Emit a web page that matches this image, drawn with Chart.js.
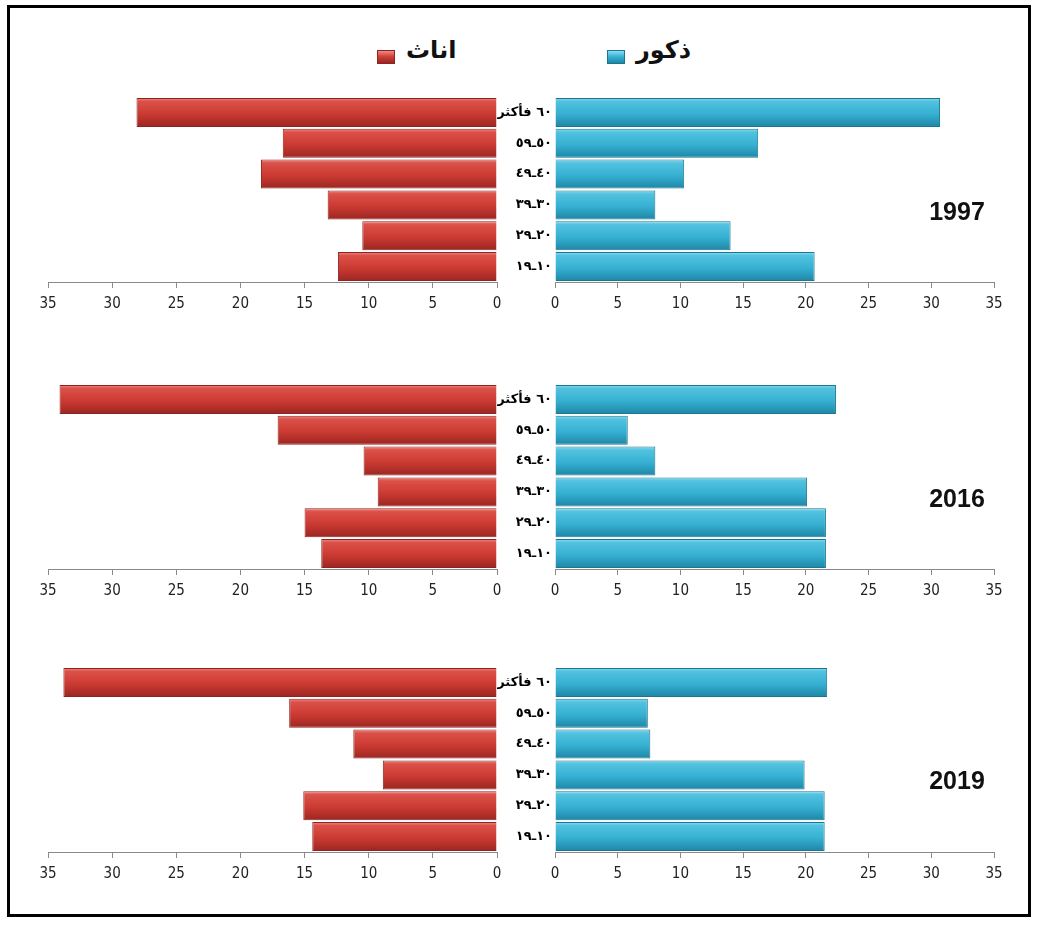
<!DOCTYPE html>
<html>
<head>
<meta charset="utf-8">
<script src="https://cdn.jsdelivr.net/npm/chart.js@4.4.1/dist/chart.umd.min.js"></script>
<style>
  body { margin: 0; background: #fff; }
  #page { position: relative; width: 1043px; height: 930px; overflow: hidden; }
  #frame { position: absolute; left: 7px; top: 5px; width: 1024px; height: 912px;
           border: 3px solid #000; box-sizing: border-box; }
  canvas { position: absolute; }
  .year { position: absolute; width: 100px; margin-left: -50px; text-align: center;
          font: bold 25px "Liberation Sans", Arial, sans-serif; color: #111; line-height: 30px; }
  .key { position: absolute; top: 50px; width: 18px; height: 14px; box-sizing: border-box; }
  .keyText { position: absolute; top: 36px; font: bold 24px "DejaVu Sans", sans-serif;
             color: #111; direction: rtl; }
</style>
</head>
<body>
<div id="page">
  <div id="frame"></div>

  <div class="key" style="left:607px;background:linear-gradient(#8adcf0,#3ab4d6 45%,#1e86a6);border:1px solid #1c7690"></div>
  <div class="keyText" style="left:636px">ذكور</div>
  <div class="key" style="left:377px;background:linear-gradient(#ee8c82,#d0413a 45%,#9b2621);border:1px solid #8e2420"></div>
  <div class="keyText" style="left:406px">اناث</div>

  <canvas id="f0" width="510" height="230" style="left:0;top:90px"></canvas>
  <canvas id="m0" width="546" height="230" style="left:497px;top:90px"></canvas>
  <canvas id="f1" width="510" height="230" style="left:0;top:377px"></canvas>
  <canvas id="m1" width="546" height="230" style="left:497px;top:377px"></canvas>
  <canvas id="f2" width="510" height="230" style="left:0;top:660px"></canvas>
  <canvas id="m2" width="546" height="230" style="left:497px;top:660px"></canvas>

  <div class="year" style="left:957px;top:196px">1997</div>
  <div class="year" style="left:957px;top:483px">2016</div>
  <div class="year" style="left:957px;top:765px">2019</div>
</div>

<script>
// age groups, top to bottom
const ageGroups = ["٦٠ فأكثر", "٥٠ـ٥٩", "٤٠ـ٤٩", "٣٠ـ٣٩", "٢٠ـ٢٩", "١٠ـ١٩"];
const years = ["1997", "2016", "2019"];

const females1997 = [28.1, 16.7, 18.4, 13.2, 10.5, 12.4];
const males1997   = [30.7, 16.2, 10.3, 8.0, 14.0, 20.7];
const females2016 = [34.1, 17.1, 10.4, 9.3, 15.0, 13.7];
const males2016   = [22.4, 5.8, 8.0, 20.1, 21.6, 21.6];
const females2019 = [33.8, 16.2, 11.2, 8.9, 15.1, 14.4];
const males2019   = [21.7, 7.4, 7.6, 19.9, 21.5, 21.5];

const xMax = 35;
const xStep = 5;

const femaleSeries = [females1997, females2016, females2019];
const maleSeries = [males1997, males2016, males2019];

const redStops  = [[0, "#ee8c82"], [0.12, "#db5149"], [0.55, "#cb3a32"], [1, "#9b2621"]];
const blueStops = [[0, "#8adcf0"], [0.12, "#52c2df"], [0.55, "#36b0d2"], [1, "#1e86a6"]];

const axisGray = "#8a8a8a";
const barPct = 0.94;

// one vertical gradient per bar, placed with the category scale
function barFill(stops) {
  return function (ctx) {
    const chart = ctx.chart;
    const y = chart.scales && chart.scales.y;
    if (ctx.type !== "data" || !y || !chart.chartArea) return stops[2][1];
    const centre = y.getPixelForValue(ctx.dataIndex);
    const half = (y.bottom - y.top) / ageGroups.length * barPct / 2;
    if (!isFinite(centre) || !isFinite(half) || half <= 0) return stops[2][1];
    const g = chart.ctx.createLinearGradient(0, centre - half, 0, centre + half);
    stops.forEach(s => g.addColorStop(s[0], s[1]));
    return g;
  };
}

function xAxis(reverse) {
  return {
    type: "linear",
    reverse: reverse,
    min: 0,
    max: xMax,
    ticks: {
      stepSize: xStep,
      color: "#222",
      padding: 7,
      font: { family: "'Liberation Sans Narrow', 'DejaVu Sans Condensed', sans-serif", size: 15 }
    },
    grid: { drawOnChartArea: false, drawTicks: true, tickLength: 6, color: axisGray },
    border: { color: axisGray, width: 1 },
    afterFit(scale) { scale.height = 38; }
  };
}

function makeFemale(id, values) {
  return new Chart(document.getElementById(id), {
    type: "bar",
    data: {
      labels: ageGroups,
      datasets: [{
        label: "اناث",
        data: values,
        backgroundColor: barFill(redStops),
        borderColor: "#8e2420",
        borderWidth: 1,
        barPercentage: barPct,
        categoryPercentage: 1
      }]
    },
    options: {
      indexAxis: "y",
      responsive: false,
      animation: false,
      devicePixelRatio: 1,
      layout: { padding: { left: 48, right: 13, top: 7, bottom: 0 } },
      plugins: { legend: { display: false }, tooltip: { enabled: false } },
      scales: {
        x: xAxis(true),
        y: { display: false }
      }
    }
  });
}

function makeMale(id, values) {
  return new Chart(document.getElementById(id), {
    type: "bar",
    data: {
      labels: ageGroups,
      datasets: [{
        label: "ذكور",
        data: values,
        backgroundColor: barFill(blueStops),
        borderColor: "#1c7690",
        borderWidth: 1,
        barPercentage: barPct,
        categoryPercentage: 1
      }]
    },
    options: {
      indexAxis: "y",
      responsive: false,
      animation: false,
      devicePixelRatio: 1,
      layout: { padding: { left: 0, right: 49, top: 7, bottom: 0 } },
      plugins: { legend: { display: false }, tooltip: { enabled: false } },
      scales: {
        x: xAxis(false),
        y: {
          position: "left",
          grid: { display: false, drawTicks: false },
          border: { display: false },
          ticks: {
            color: "#000",
            crossAlign: "near",
            padding: 3,
            font: { family: "'DejaVu Sans', sans-serif", weight: "bold", size: 13 }
          },
          afterFit(scale) {
            scale.width = 58;
            scale.paddingTop = 0;
            scale.paddingBottom = 0;
          }
        }
      }
    }
  });
}

years.forEach((yr, i) => {
  makeFemale("f" + i, femaleSeries[i]);
  makeMale("m" + i, maleSeries[i]);
});
</script>
</body>
</html>
